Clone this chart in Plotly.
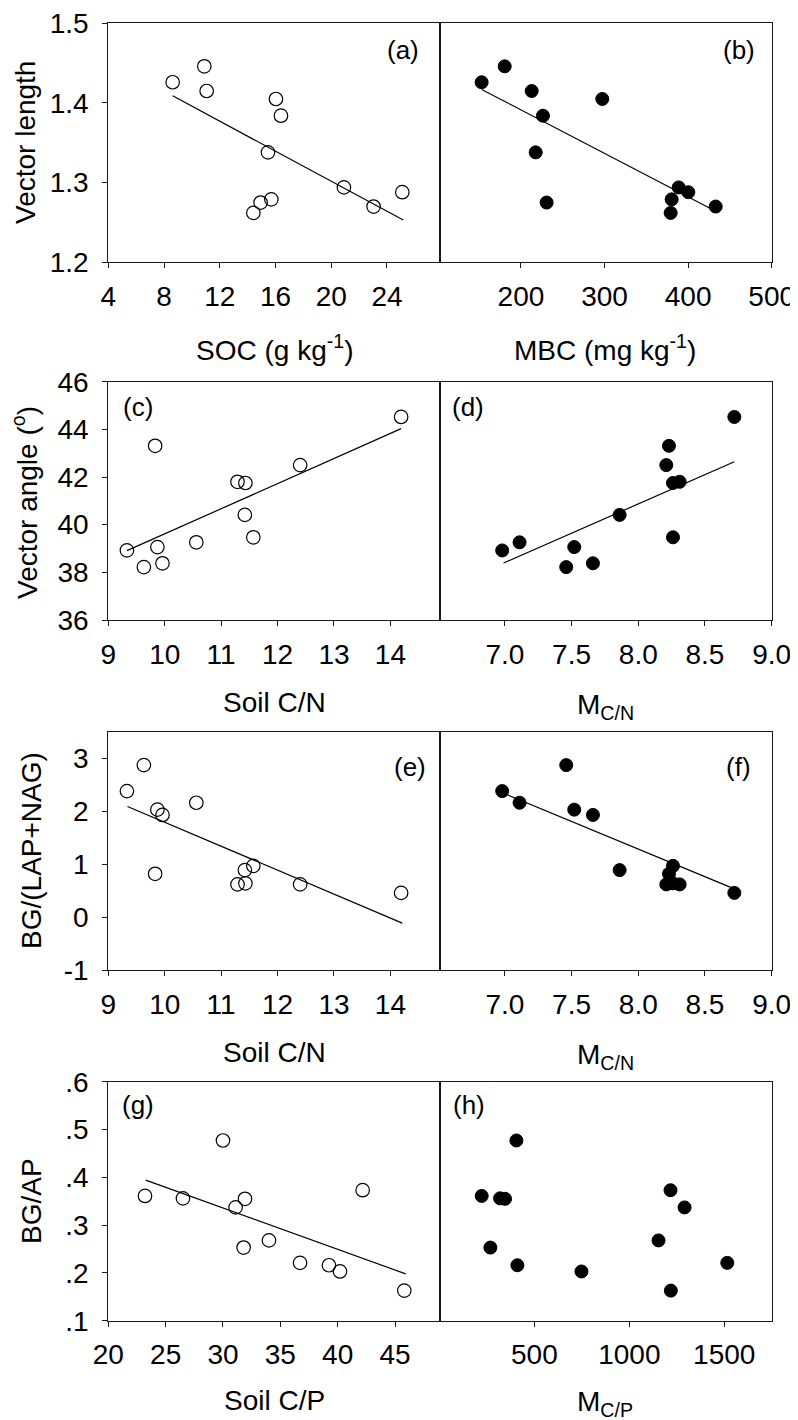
import plotly.graph_objects as go

# ---------------- data ----------------
# Row 1: vector length vs SOC (open) and MBC (filled)
vector_length = [1.426, 1.446, 1.415, 1.405, 1.384, 1.338, 1.262, 1.275, 1.279, 1.294, 1.270, 1.288]
soc = [8.62, 10.89, 11.06, 16.03, 16.39, 15.46, 14.41, 14.93, 15.70, 20.91, 23.04, 25.10]
vl_mbc_x = [152.9, 180.5, 212.8, 297.3, 226.3, 217.6, 379.1, 230.7, 380.3, 388.7, 433.0, 400.2]

# Rows 2-3: per sample (ordered by soil C/N)
soil_cn = [9.33, 9.63, 9.83, 9.87, 9.96, 10.56, 11.29, 11.43, 11.42, 11.57, 12.40, 14.19]
m_cn = [6.98, 7.46, 8.23, 7.52, 7.66, 7.11, 8.31, 8.26, 7.86, 8.26, 8.21, 8.72]
vector_angle = [38.92, 38.22, 43.31, 39.06, 38.38, 39.26, 41.80, 41.75, 40.41, 39.47, 42.50, 44.52]
bg_lap_nag = [2.38, 2.87, 0.82, 2.03, 1.93, 2.16, 0.62, 0.64, 0.89, 0.97, 0.62, 0.46]

# Row 4: BG/AP vs soil C/P (open) and M C/P (filled)
soil_cp = [23.20, 26.51, 30.00, 31.10, 31.92, 31.80, 34.01, 36.72, 39.24, 40.20, 42.18, 45.81]
bg_ap = [0.361, 0.356, 0.477, 0.337, 0.355, 0.253, 0.268, 0.221, 0.216, 0.203, 0.373, 0.163]
m_cp = [222.3, 319.0, 405.1, 1290.9, 345.3, 268.0, 1153.8, 1515.9, 410.4, 747.8, 1217.0, 1218.8]

# regression lines (end points)
fit_a_x, fit_a_y = [8.62, 25.17], [1.409, 1.253]
fit_b_x, fit_b_y = [152.9, 433.0], [1.417, 1.264]
fit_c_x, fit_c_y = [9.33, 14.19], [38.91, 44.03]
fit_d_x, fit_d_y = [6.99, 8.72], [38.39, 42.64]
fit_e_x, fit_e_y = [9.34, 14.21], [2.09, -0.11]
fit_f_x, fit_f_y = [6.99, 8.72], [2.34, 0.535]
fit_g_x, fit_g_y = [23.26, 45.93], [0.394, 0.198]

panel_labels = ["(a)", "(b)", "(c)", "(d)", "(e)", "(f)", "(g)", "(h)"]

# ---------------- layout geometry ----------------
# the page places the figure 8 px from the top-left corner (body margin)
OFF = 8
W, H = 790, 1412
FONT = "Arial, Liberation Sans, sans-serif"
XL0, XMID, XR1 = 108.3, 439.5, 771.7
ROWS = [(23.3, 262.3), (381.7, 620.0), (731.7, 970.3), (1081.7, 1320.7)]


def px(x):
    return (x - OFF) / W


def py(y):
    return 1 - (y - OFF) / H


fig = go.Figure()

panels = [
    dict(x=soc, y=vector_length, filled=False, fx=fit_a_x, fy=fit_a_y),
    dict(x=vl_mbc_x, y=vector_length, filled=True, fx=fit_b_x, fy=fit_b_y),
    dict(x=soil_cn, y=vector_angle, filled=False, fx=fit_c_x, fy=fit_c_y),
    dict(x=m_cn, y=vector_angle, filled=True, fx=fit_d_x, fy=fit_d_y),
    dict(x=soil_cn, y=bg_lap_nag, filled=False, fx=fit_e_x, fy=fit_e_y),
    dict(x=m_cn, y=bg_lap_nag, filled=True, fx=fit_f_x, fy=fit_f_y),
    dict(x=soil_cp, y=bg_ap, filled=False, fx=fit_g_x, fy=fit_g_y),
    dict(x=m_cp, y=bg_ap, filled=True, fx=None, fy=None),
]

x_ranges = [[4, 27.77], [102.5, 500], [9, 14.87], [6.51, 9.0],
            [9, 14.87], [6.51, 9.0], [20, 48.88], [0, 1750]]
x_ticks = [[4, 8, 12, 16, 20, 24], [200, 300, 400, 500], [9, 10, 11, 12, 13, 14],
           [7.0, 7.5, 8.0, 8.5, 9.0], [9, 10, 11, 12, 13, 14], [7.0, 7.5, 8.0, 8.5, 9.0],
           [20, 25, 30, 35, 40, 45], [500, 1000, 1500]]
x_ticktext = [None, None, None, ["7.0", "7.5", "8.0", "8.5", "9.0"], None,
              ["7.0", "7.5", "8.0", "8.5", "9.0"], None, None]
y_ranges = [[1.2, 1.5], [36, 46], [-1, 3.5], [0.1, 0.6]]
y_ticks = [[1.2, 1.3, 1.4, 1.5], [36, 38, 40, 42, 44, 46], [-1, 0, 1, 2, 3],
           [0.1, 0.2, 0.3, 0.4, 0.5, 0.6]]
y_ticktext = [["1.2", "1.3", "1.4", "1.5"], None, ["-1", "0", "1", "2", "3"],
              [".1", ".2", ".3", ".4", ".5", ".6"]]

AX_COL = "#1a1a1a"
TICK_SIZE = 28

for i, p in enumerate(panels):
    n = i + 1
    xa = "x" if n == 1 else f"x{n}"
    ya = "y" if n == 1 else f"y{n}"
    if p["fx"] is not None:
        fig.add_trace(go.Scatter(x=p["fx"], y=p["fy"], mode="lines", xaxis=xa, yaxis=ya,
                                 line=dict(color="black", width=1.2), showlegend=False,
                                 hoverinfo="skip"))
    fig.add_trace(go.Scatter(
        x=p["x"], y=p["y"], mode="markers", xaxis=xa, yaxis=ya, showlegend=False,
        marker=dict(size=13 if p["filled"] else 13.5,
                    color="black" if p["filled"] else "rgba(0,0,0,0)",
                    line=dict(color="black", width=1.2 if not p["filled"] else 1))))

    row, col = divmod(i, 2)
    top, bot = ROWS[row]
    left, right = (XL0, XMID) if col == 0 else (XMID, XR1)
    xkw = dict(domain=[px(left), px(right)], range=x_ranges[i], anchor=ya,
               showline=True, mirror=True, linecolor=AX_COL, linewidth=1,
               ticks="outside", ticklen=5, tickcolor=AX_COL, tickwidth=1,
               tickvals=x_ticks[i], showgrid=False, zeroline=False, automargin=False,
               tickfont=dict(family=FONT, size=TICK_SIZE, color="black"),
               ticklabelstandoff=4)
    if x_ticktext[i] is not None:
        xkw["ticktext"] = x_ticktext[i]
    ykw = dict(domain=[py(bot), py(top)], range=y_ranges[row], anchor=xa,
               showline=True, mirror=True, linecolor=AX_COL, linewidth=1,
               showgrid=False, zeroline=False, automargin=False)
    if col == 0:
        ykw.update(ticks="outside", ticklen=5, tickcolor=AX_COL, tickwidth=1,
                   tickvals=y_ticks[row],
                   tickfont=dict(family=FONT, size=TICK_SIZE, color="black"),
                   ticklabelstandoff=8)
        if y_ticktext[row] is not None:
            ykw["ticktext"] = y_ticktext[row]
    else:
        ykw.update(showticklabels=False, ticks="")
    fig.layout["xaxis" if n == 1 else f"xaxis{n}"] = xkw
    fig.layout["yaxis" if n == 1 else f"yaxis{n}"] = ykw

annotations = []


def add_text(text, x, y, size=28, angle=0, xanchor="center", yanchor="middle"):
    annotations.append(dict(text=text, x=px(x), y=py(y), xref="paper", yref="paper",
                            showarrow=False, textangle=angle, xanchor=xanchor,
                            yanchor=yanchor, font=dict(family=FONT, size=size, color="black")))


# panel labels
label_pos = [(402.5, 50), (739, 50), (138.3, 406.5), (468.3, 406.5),
             (410, 766.5), (738.3, 766.5), (138.3, 1105), (468.7, 1105)]
for t, (x, y) in zip(panel_labels, label_pos):
    add_text(t, x, y, size=26)

# x axis titles
add_text("SOC (g kg<sup>-1</sup>)", 274, 348)
add_text("MBC (mg kg<sup>-1</sup>)", 605, 348)
add_text("Soil C/N", 274, 702)
add_text("M<sub>C/N</sub>", 605, 706)
add_text("Soil C/N", 274, 1052)
add_text("M<sub>C/N</sub>", 605, 1056)
add_text("Soil C/P", 274, 1400)
add_text("M<sub>C/P</sub>", 605, 1403)

# y axis titles
add_text("Vector length", 25, 143, angle=-90)
add_text("Vector angle (<sup>o</sup>)", 25, 503, angle=-90)
add_text("BG/(LAP+NAG)", 31, 851, angle=-90)
add_text("BG/AP", 31, 1201, angle=-90)

fig.update_layout(width=W, height=H, margin=dict(l=0, r=0, t=0, b=0, autoexpand=False),
                  paper_bgcolor="white", plot_bgcolor="white",
                  annotations=annotations, showlegend=False)

fig.write_html("out.html")
